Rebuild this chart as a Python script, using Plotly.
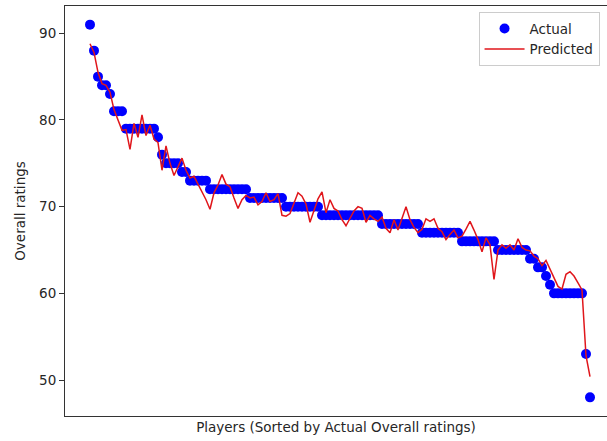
import plotly.graph_objects as go

# Overall ratings of the players, sorted from highest to lowest
actual = [
    91, 88, 85, 84, 84, 83, 81, 81, 81,
    79, 79, 79, 79, 79, 79, 79, 79,
    78, 76, 75, 75, 75, 75, 74, 74,
    73, 73, 73, 73, 73,
    72, 72, 72, 72, 72, 72, 72, 72, 72, 72,
    71, 71, 71, 71, 71, 71, 71, 71, 71,
    70, 70, 70, 70, 70, 70, 70, 70, 70,
    69, 69, 69, 69, 69, 69, 69, 69, 69, 69, 69, 69, 69, 69, 69,
    68, 68, 68, 68, 68, 68, 68, 68, 68, 68,
    67, 67, 67, 67, 67, 67, 67, 67, 67, 67,
    66, 66, 66, 66, 66, 66, 66, 66, 66,
    65, 65, 65, 65, 65, 65, 65, 65,
    64, 64, 63, 63, 62, 61,
    60, 60, 60, 60, 60, 60, 60, 60,
    53, 48,
]

# Model predictions for the same players
predicted = [
    88.8, 87.8, 85.5, 84.2, 84.0, 83.2, 81.2, 80.0, 78.8,
    78.9, 76.6, 79.6, 78.0, 80.6, 78.2, 79.4, 77.8,
    77.4, 74.2, 77.0, 75.0, 73.6, 74.6, 75.6, 74.2,
    73.3, 73.5, 72.6, 71.8, 70.8,
    69.7, 71.6, 72.5, 73.7, 72.6, 72.3, 71.0, 69.8, 70.8, 71.3,
    71.0, 71.1, 70.2, 70.6, 71.6, 70.6, 70.8, 71.5, 69.0,
    68.9, 69.2, 70.5, 71.6, 71.2, 70.3, 68.2, 69.6, 70.9,
    71.7, 69.3, 70.8, 69.8, 69.5, 68.5, 67.8, 68.6, 69.5, 70.0, 69.8, 68.2, 69.0, 68.6, 68.3,
    68.8, 67.5, 67.0, 68.5, 67.3, 68.6, 70.0, 68.5, 67.6, 67.0,
    67.4, 68.6, 68.3, 68.6, 67.5, 67.1, 66.2, 66.8, 67.3, 66.4,
    66.6, 67.4, 68.3, 67.3, 66.2, 64.8, 66.4, 65.6, 61.6,
    65.0, 65.6, 65.2, 65.6, 65.0, 66.3, 65.3, 65.0,
    64.9, 64.3, 64.0, 63.2, 63.8, 62.8,
    61.8, 60.8, 60.5, 62.2, 62.5, 62.0, 61.2, 60.4,
    52.8, 50.4,
]

y_ticks = [50, 60, 70, 80, 90]

players = list(range(len(actual)))

FONT = "DejaVu Sans"
TEXT = "#262626"

fig = go.Figure()
fig.add_trace(go.Scatter(
    x=players, y=actual, mode="markers", name="Actual",
    marker=dict(color="#0000ff", size=10, line=dict(width=0)),
))
fig.add_trace(go.Scatter(
    x=players, y=predicted, mode="lines", name="Predicted",
    line=dict(color="#e0161b", width=1.5),
))

fig.update_layout(
    width=607, height=441,
    margin=dict(l=65, r=0, t=6, b=25),
    paper_bgcolor="white", plot_bgcolor="white",
    font=dict(family=FONT, size=13.5, color=TEXT),
    showlegend=True,
    legend=dict(
        x=0.763, y=0.985, xanchor="left", yanchor="top",
        bgcolor="rgba(255,255,255,0.9)", bordercolor="#cccccc", borderwidth=1,
        font=dict(family=FONT, size=13.5, color=TEXT),
        itemwidth=40, tracegroupgap=2,
    ),
    xaxis=dict(
        range=[-6.25, 129.25], showgrid=False, zeroline=False,
        showticklabels=False, ticks="",
        showline=True, linecolor="#333333", linewidth=1, mirror=True,
        title=dict(text="Players (Sorted by Actual Overall ratings)",
                   font=dict(family=FONT, size=13.5, color=TEXT), standoff=6),
    ),
    yaxis=dict(
        range=[45.85, 93.15], showgrid=False, zeroline=False,
        tickvals=y_ticks, ticktext=[str(v) for v in y_ticks],
        ticks="outside", ticklen=5, tickcolor="#333333",
        tickfont=dict(family=FONT, size=13.5, color=TEXT),
        showline=True, linecolor="#333333", linewidth=1,
        title=dict(text="Overall ratings",
                   font=dict(family=FONT, size=13.5, color=TEXT), standoff=10),
    ),
)

fig.write_html("out.html")
